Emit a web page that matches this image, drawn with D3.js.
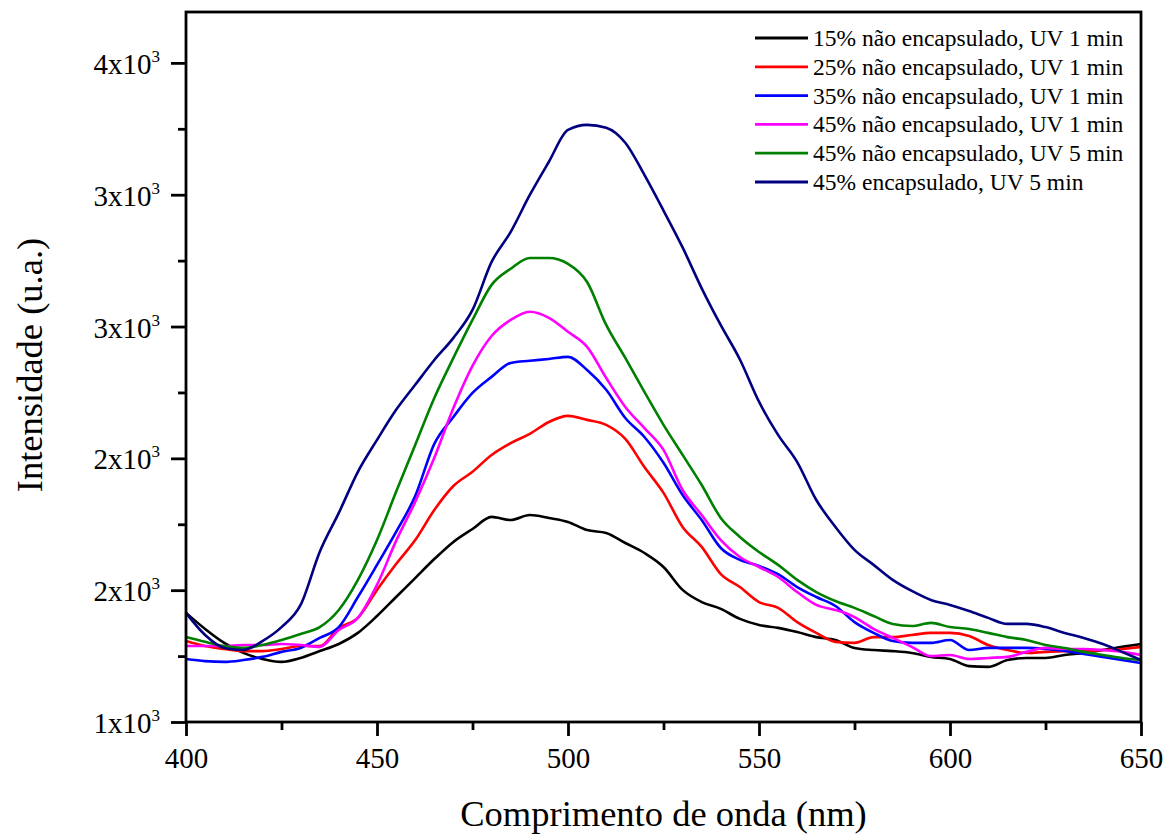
<!DOCTYPE html>
<html>
<head>
<meta charset="utf-8">
<script src="https://cdn.jsdelivr.net/npm/d3@7"></script>
<style>
  body { margin: 0; background: #fff; }
  text { font-family: "Liberation Serif", "Times New Roman", serif; fill: #000; }
</style>
</head>
<body>
<div class="js-vis"></div>
<script>
const wavelengths = d3.range(400, 651, 5)

const seriesNames = [
  '15% não encapsulado, UV 1 min',
  '25% não encapsulado, UV 1 min',
  '35% não encapsulado, UV 1 min',
  '45% não encapsulado, UV 1 min',
  '45% não encapsulado, UV 5 min',
  '45% encapsulado, UV 5 min'
]

const seriesColors = ['#000000', '#ff0000', '#0000ff', '#ff00ff', '#008000', '#000080']

const black15 = [1414, 1353, 1300, 1262, 1239, 1228, 1243, 1269, 1296, 1338, 1402, 1474, 1546, 1618, 1683, 1732,
  1778, 1766, 1785, 1774, 1759, 1728, 1717, 1679, 1641, 1588, 1501, 1455, 1429, 1391, 1368, 1357, 1341, 1322,
  1311, 1281, 1273, 1269, 1262, 1247, 1239, 1212, 1209, 1235, 1243, 1243, 1254, 1262, 1273, 1285, 1296]

const red25 = [1307, 1288, 1277, 1269, 1269, 1277, 1288, 1288, 1357, 1395, 1501, 1599, 1690, 1804, 1895, 1949,
  2013, 2058, 2093, 2138, 2161, 2146, 2127, 2074, 1967, 1869, 1740, 1664, 1561, 1512, 1455, 1433, 1379, 1338,
  1304, 1300, 1322, 1322, 1330, 1338, 1338, 1326, 1292, 1273, 1262, 1266, 1269, 1269, 1273, 1277, 1285]

const blue35 = [1239, 1231, 1228, 1235, 1247, 1266, 1281, 1319, 1360, 1474, 1596, 1721, 1857, 2055, 2157, 2248,
  2309, 2362, 2370, 2377, 2385, 2335, 2260, 2153, 2081, 1983, 1861, 1766, 1660, 1615, 1592, 1561, 1512, 1474,
  1440, 1379, 1338, 1307, 1300, 1300, 1311, 1273, 1281, 1281, 1281, 1277, 1269, 1258, 1247, 1235, 1224]

const magenta45 = [1288, 1288, 1288, 1292, 1292, 1296, 1292, 1285, 1349, 1395, 1520, 1687, 1835, 2002, 2191, 2351,
  2464, 2525, 2556, 2533, 2480, 2423, 2305, 2195, 2115, 2032, 1880, 1785, 1690, 1626, 1588, 1550, 1493, 1444,
  1425, 1398, 1353, 1319, 1285, 1250, 1254, 1239, 1243, 1247, 1266, 1281, 1277, 1277, 1273, 1266, 1254]

const green45uv5 = [1322, 1304, 1288, 1281, 1292, 1311, 1334, 1360, 1425, 1539, 1690, 1873, 2051, 2229, 2381, 2525,
  2658, 2719, 2760, 2760, 2738, 2669, 2506, 2381, 2252, 2127, 2013, 1899, 1774, 1702, 1645, 1596, 1539, 1493,
  1459, 1433, 1402, 1372, 1364, 1376, 1360, 1353, 1338, 1322, 1311, 1292, 1281, 1266, 1254, 1243, 1235]

const navy45enc = [1414, 1330, 1281, 1273, 1307, 1360, 1444, 1645, 1793, 1949, 2070, 2184, 2279, 2373, 2457, 2563,
  2745, 2859, 2999, 3125, 3246, 3265, 3254, 3197, 3075, 2940, 2800, 2645, 2505, 2375, 2215, 2089, 1986, 1842,
  1740, 1653, 1596, 1539, 1497, 1463, 1444, 1421, 1395, 1372, 1372, 1360, 1338, 1319, 1296, 1266, 1235]

const xTicks = [400, 450, 500, 550, 600, 650],
    xMinor = [425, 475, 525, 575, 625],
    yTicks = [1000, 1500, 2000, 2500, 3000, 3500],
    yMinor = [1250, 1750, 2250, 2750, 3250]

const allSeries = [black15, red25, blue35, magenta45, green45uv5, navy45enc]

const margin = { top: 12, right: 34, bottom: 112, left: 186 },
    width = 1175 - margin.left - margin.right,
    height = 834 - margin.top - margin.bottom

const svg = d3.select('.js-vis').append('svg')
    .attr('width', 1175)
    .attr('height', 834)

const vis = svg.append('g')
    .attr('transform', 'translate(' + margin.left + ',' + margin.top + ')')

const x = d3.scaleLinear()
  .domain([400, 650])
  .range([0, width])

const y = d3.scaleLinear()
  .domain([1000, 3693])
  .range([height, 0])

// curves
const line = d3.line()
  .x(function(d) { return x(d[0]) })
  .y(function(d) { return y(d[1]) })
  .curve(d3.curveMonotoneX)

allSeries.forEach(function(vals, i) {
  vis.append('path')
    .datum(wavelengths.map(function(w, j) { return [w, vals[j]] }))
    .attr('fill', 'none')
    .attr('stroke', seriesColors[i])
    .attr('stroke-width', 2.6)
    .attr('stroke-linejoin', 'round')
    .attr('d', line)
})

// frame
vis.append('rect')
  .attr('width', width)
  .attr('height', height)
  .attr('fill', 'none')
  .attr('stroke', '#000')
  .attr('stroke-width', 2.8)

// x axis
const xax = vis.append('g')
  .attr('transform', 'translate(0,' + height + ')')
  .call(d3.axisBottom(x).tickValues(xTicks).tickSize(14).tickSizeOuter(0).tickPadding(11))
xax.select('.domain').remove()
xax.selectAll('line').attr('stroke-width', 2.8)
xax.selectAll('text').style('font-size', '29px').style('font-family', '"Liberation Serif", serif')

const xmin = vis.append('g')
  .attr('transform', 'translate(0,' + height + ')')
  .call(d3.axisBottom(x).tickValues(xMinor).tickSize(8).tickFormat(''))
xmin.select('.domain').remove()
xmin.selectAll('line').attr('stroke-width', 2.8)

// y axis
const yax = vis.append('g')
  .call(d3.axisLeft(y).tickValues(yTicks).tickSize(15).tickSizeOuter(0).tickFormat(''))
yax.select('.domain').remove()
yax.selectAll('line').attr('stroke-width', 2.8)

const ymin = vis.append('g')
  .call(d3.axisLeft(y).tickValues(yMinor).tickSize(8).tickFormat(''))
ymin.select('.domain').remove()
ymin.selectAll('line').attr('stroke-width', 2.8)

const ylab = vis.append('g').selectAll('text')
  .data(yTicks)
.enter().append('text')
  .attr('x', -26)
  .attr('y', function(d) { return y(d) + 11 })
  .attr('text-anchor', 'end')
  .style('font-size', '29px')

ylab.append('tspan').text(function(d) { return Math.round(d / 1000) + 'x10' })
ylab.append('tspan')
  .attr('dy', -12)
  .style('font-size', '17px')
  .text('3')

// axis titles
svg.append('text')
  .attr('x', margin.left + width / 2)
  .attr('y', 826)
  .attr('text-anchor', 'middle')
  .style('font-size', '36.5px')
  .text('Comprimento de onda (nm)')

svg.append('text')
  .attr('transform', 'translate(42,' + (margin.top + height / 2 - 2) + ') rotate(-90)')
  .attr('text-anchor', 'middle')
  .style('font-size', '36.5px')
  .text('Intensidade (u.a.)')

// legend
const legend = svg.append('g')
  .attr('transform', 'translate(755,38)')

const item = legend.selectAll('.item')
  .data(seriesNames)
.enter().append('g')
  .attr('class', 'item')
  .attr('transform', function(d, i) { return 'translate(0,' + (i * 28.8) + ')' })

item.append('line')
  .attr('x1', 0)
  .attr('x2', 53)
  .attr('stroke', function(d, i) { return seriesColors[i] })
  .attr('stroke-width', 2.8)

item.append('text')
  .attr('x', 58)
  .attr('y', 8)
  .style('font-size', '23.5px')
  .text(String)
</script>
</body>
</html>
